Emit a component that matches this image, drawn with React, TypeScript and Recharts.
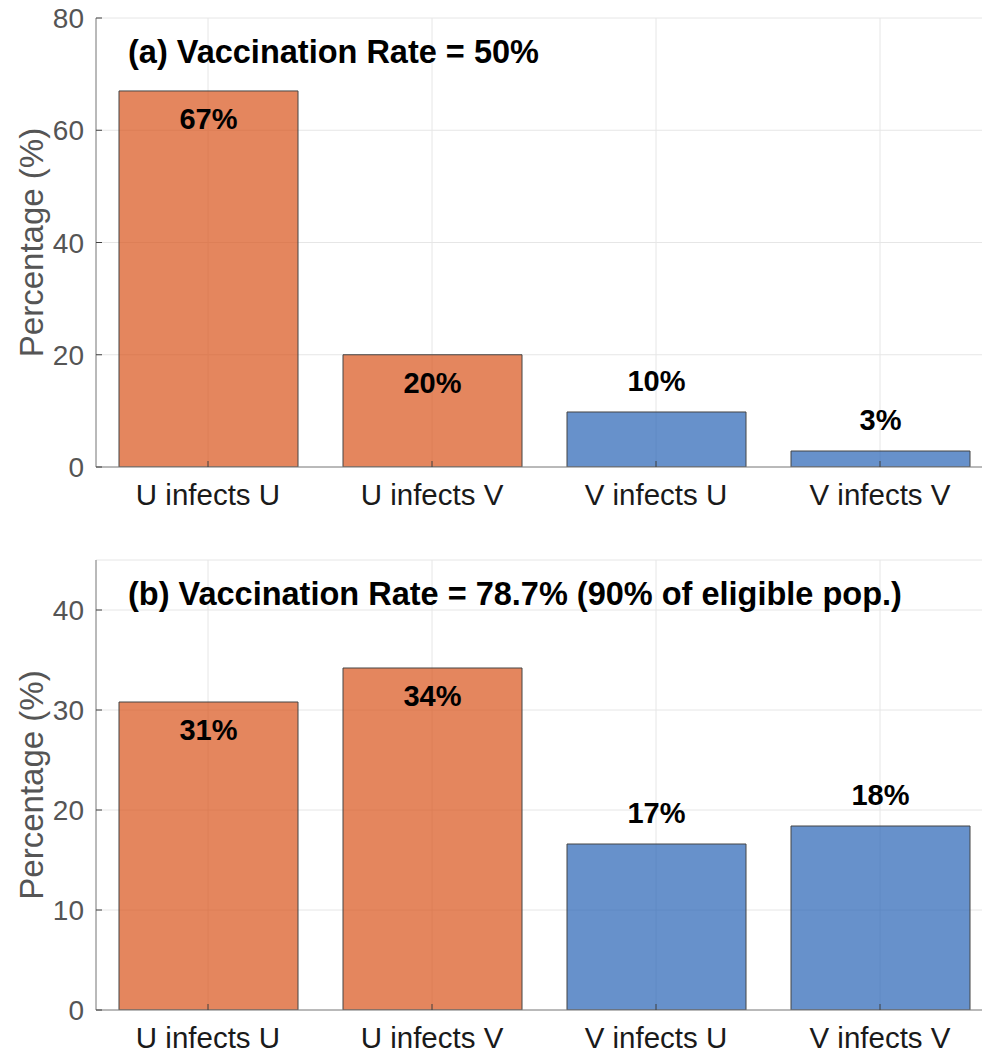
import React from 'react';
import {
  BarChart,
  Bar,
  XAxis,
  YAxis,
  CartesianGrid,
  Cell,
  LabelList,
  Customized,
} from 'recharts';

const categories = ['U infects U', 'U infects V', 'V infects U', 'V infects V'];
const sourceGroup = ['U', 'U', 'V', 'V'];
const valuesA = [67, 20, 9.8, 2.85];
const valuesB = [30.8, 34.2, 16.6, 18.4];
const ticksA = [0, 20, 40, 60, 80];
const ticksB = [0, 10, 20, 30, 40];
const titleA = '(a) Vaccination Rate = 50%';
const titleB = '(b) Vaccination Rate = 78.7% (90% of eligible pop.)';

const FONT = '"Liberation Sans", Arial, Helvetica, sans-serif';
const AXIS = '#808080';
const GRID = '#e6e6e6';

const groupFill: Record<string, string> = {
  U: '#d9531a',
  V: '#2762b5',
};

const XTick = ({ x, y, payload }: any) => (
  <text x={x} y={y} dy={32} textAnchor="middle" fontFamily={FONT} fontSize={29.5} fill="#1a1a1a">
    {payload.value}
  </text>
);

const YTick = ({ x, y, payload }: any) => (
  <text x={x} y={y} dy={10} textAnchor="end" fontFamily={FONT} fontSize={28} fill="#555555">
    {payload.value}
  </text>
);

const NoTick = () => <g />;

const BarValue = (props: any) => {
  const { x, y, width, value, index } = props;
  const inside = sourceGroup[index] === 'U';
  return (
    <text
      x={x + width / 2}
      y={inside ? y + 38 : y - 21}
      textAnchor="middle"
      fontFamily={FONT}
      fontWeight="bold"
      fontSize={29}
      fill="#000"
    >
      {`${Math.round(value)}%`}
    </text>
  );
};

const YLabel = ({ viewBox }: any) => {
  const cx = viewBox.x + 31;
  const cy = viewBox.y + viewBox.height / 2;
  return (
    <text
      x={cx}
      y={cy}
      transform={`rotate(-90 ${cx} ${cy})`}
      textAnchor="middle"
      dominantBaseline="central"
      fontFamily={FONT}
      fontSize={33}
      fill="#555555"
    >
      Percentage (%)
    </text>
  );
};

interface PanelProps {
  values: number[];
  ticks: number[];
  yMax: number;
  title: string;
  height: number;
  marginTop: number;
  xHeight: number;
}

const Panel: React.FC<PanelProps> = ({ values, ticks, yMax, title, height, marginTop, xHeight }) => {
  const data = categories.map((name, i) => ({ name, value: values[i] }));
  return (
    <BarChart
      width={992}
      height={height}
      data={data}
      margin={{ top: marginTop, right: 0, left: 0, bottom: 0 }}
      barSize={179}
    >
      <CartesianGrid stroke={GRID} strokeWidth={1} />
      <XAxis
        dataKey="name"
        height={xHeight}
        tick={<XTick />}
        tickSize={-6}
        tickMargin={12}
        axisLine={{ stroke: AXIS }}
        tickLine={{ stroke: '#404040' }}
        interval={0}
      />
      <XAxis
        xAxisId="top"
        dataKey="name"
        orientation="top"
        height={0}
        tick={<NoTick />}
        tickSize={-6}
        axisLine={{ stroke: AXIS }}
        tickLine={{ stroke: '#404040' }}
        interval={0}
      />
      <YAxis
        width={96}
        domain={[0, yMax]}
        ticks={ticks}
        tick={<YTick />}
        tickSize={-6}
        tickMargin={18}
        axisLine={{ stroke: AXIS }}
        tickLine={{ stroke: '#404040' }}
        label={<YLabel />}
        allowDataOverflow
      />
      <Bar dataKey="value" stroke="#444" strokeWidth={1} isAnimationActive={false}>
        {data.map((d, i) => (
          <Cell key={d.name} fill={groupFill[sourceGroup[i]]} fillOpacity={0.7} />
        ))}
        <LabelList dataKey="value" content={<BarValue />} />
      </Bar>
      <Customized
        component={() => (
          <text x={128} y={marginTop + 45} fontFamily={FONT} fontWeight="bold" fontSize={32.5} fill="#000">
            {title}
          </text>
        )}
      />
    </BarChart>
  );
};

export default function App() {
  return (
    <div
      style={{
        position: 'absolute',
        left: 0,
        top: 0,
        width: 982,
        height: 1053,
        overflow: 'hidden',
        background: '#fff',
      }}
    >
      <div style={{ position: 'absolute', left: 0, top: 0 }}>
        <Panel values={valuesA} ticks={ticksA} yMax={80} title={titleA} height={520} marginTop={18} xHeight={53} />
      </div>
      <div style={{ position: 'absolute', left: 0, top: 530 }}>
        <Panel values={valuesB} ticks={ticksB} yMax={45} title={titleB} height={523} marginTop={30} xHeight={43} />
      </div>
    </div>
  );
}
